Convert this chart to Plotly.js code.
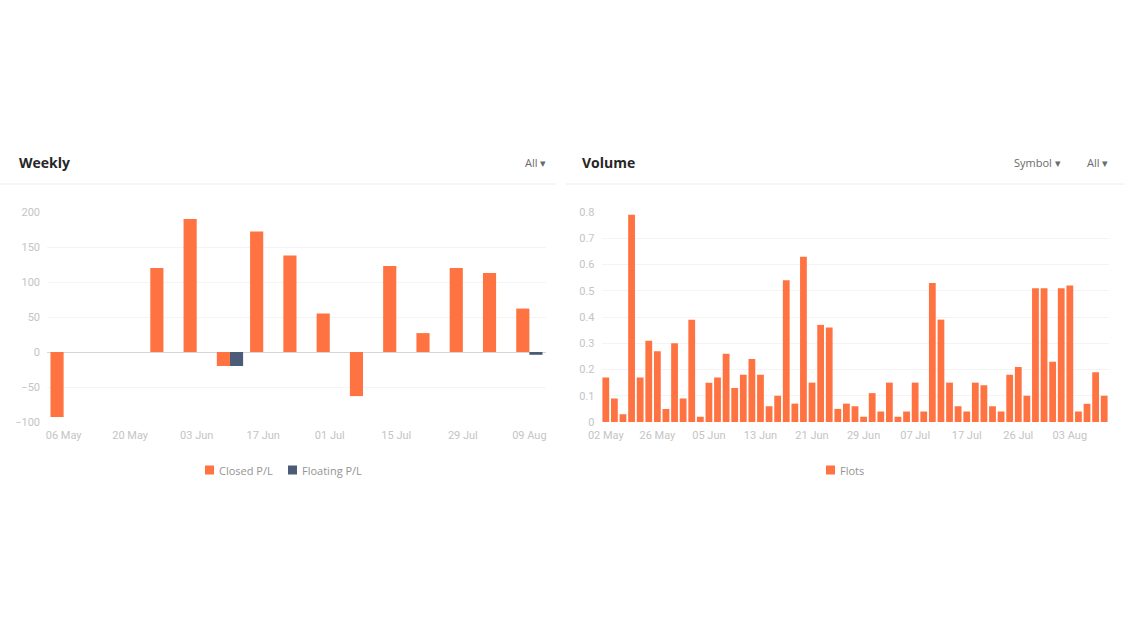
<!DOCTYPE html>
<html>
<head>
<meta charset="utf-8">
<script src="https://cdn.plot.ly/plotly-3.0.1.min.js"></script>
<style>
html,body{margin:0;padding:0;background:#fff;}
#chart{width:1125px;height:633px;}
</style>
</head>
<body>
<div id="chart"></div>
<script>
// Weekly P/L
const weekCats = ["06 May","13 May","20 May","27 May","03 Jun","10 Jun","17 Jun","24 Jun","01 Jul","08 Jul","15 Jul","22 Jul","29 Jul","05 Aug","09 Aug"];
const closedPL = [-93, 0, 0, 120, 190, -20, 172, 138, 55, -63, 123, 27, 120, 113, 62];
const floatingPL = [0, 0, 0, 0, 0, -20, 0, 0, 0, 0, 0, 0, 0, 0, -4];
const weekTicks = ["06 May","20 May","03 Jun","17 Jun","01 Jul","15 Jul","29 Jul","09 Aug"];

// Daily volume (lots)
const dayCats = ["02 May","06 May","09 May","14 May","17 May","22 May",
  "26 May","28 May","29 May","30 May","31 May","03 Jun",
  "05 Jun","06 Jun","07 Jun","10 Jun","11 Jun","12 Jun",
  "13 Jun","14 Jun","17 Jun","18 Jun","19 Jun","20 Jun",
  "21 Jun","24 Jun","25 Jun","26 Jun","27 Jun","28 Jun",
  "29 Jun","01 Jul","02 Jul","03 Jul","04 Jul","05 Jul",
  "07 Jul","09 Jul","10 Jul","11 Jul","12 Jul","15 Jul",
  "17 Jul","18 Jul","19 Jul","22 Jul","23 Jul","25 Jul",
  "26 Jul","29 Jul","30 Jul","31 Jul","01 Aug","02 Aug",
  "03 Aug","05 Aug","06 Aug","07 Aug","08 Aug"];
const flots = [0.17,0.09,0.03,0.79,0.17,0.31,
  0.27,0.05,0.30,0.09,0.39,0.02,
  0.15,0.17,0.26,0.13,0.18,0.24,
  0.18,0.06,0.10,0.54,0.07,0.63,
  0.15,0.37,0.36,0.05,0.07,0.06,
  0.02,0.11,0.04,0.15,0.02,0.04,
  0.15,0.04,0.53,0.39,0.15,0.06,
  0.04,0.15,0.14,0.06,0.04,0.18,
  0.21,0.10,0.51,0.51,0.23,0.51,
  0.52,0.04,0.07,0.19,0.10];
const dayTicks = ["02 May","26 May","05 Jun","13 Jun","21 Jun","29 Jun","07 Jul","17 Jul","26 Jul","03 Aug"];

const seriesNames = ["Closed P/L", "Floating P/L", "Flots"];

const ORANGE = "#ff7342";
const SLATE = "#4b5b78";
const W = 1125, H = 633;
const px = v => v / W;
const py = v => 1 - v / H;

const tickFont = {family: "Roboto, 'DejaVu Sans', sans-serif", size: 11, color: "#c4c4c4"};
const legendFont = {family: "'Open Sans', sans-serif", size: 11, color: "#949494"};
const headFont = {family: "'Open Sans', sans-serif", size: 14, color: "#262626"};
const menuFont = {family: "'Open Sans', sans-serif", size: 11, color: "#6b6b6b"};

const data = [
  {type: "bar", x: weekCats, y: closedPL, name: seriesNames[0], marker: {color: ORANGE}, xaxis: "x", yaxis: "y"},
  {type: "bar", x: weekCats, y: floatingPL, name: seriesNames[1], marker: {color: SLATE}, xaxis: "x", yaxis: "y"},
  {type: "bar", x: dayCats, y: flots, name: seriesNames[2], marker: {color: ORANGE}, xaxis: "x2", yaxis: "y2"}
];

const plotTop = 212, plotBot = 422;

// custom legend entries: [square left px, color, label]
const legendItems = [[205, ORANGE, seriesNames[0]], [288, SLATE, seriesNames[1]], [826, ORANGE, seriesNames[2]]];
const legendY = 470;

const shapes = [
  {type: "line", xref: "paper", yref: "paper", x0: 0, x1: px(556), y0: py(184), y1: py(184), line: {color: "#ececec", width: 1}},
  {type: "line", xref: "paper", yref: "paper", x0: px(566), x1: 1, y0: py(184), y1: py(184), line: {color: "#ececec", width: 1}}
];
const annotations = [
  {text: "<b>Weekly</b>", xref: "paper", yref: "paper", x: px(17), y: py(162), xanchor: "left", yanchor: "middle", showarrow: false, font: headFont},
  {text: "All ▾", xref: "paper", yref: "paper", x: px(548), y: py(162), xanchor: "right", yanchor: "middle", showarrow: false, font: menuFont},
  {text: "<b>Volume</b>", xref: "paper", yref: "paper", x: px(580), y: py(162), xanchor: "left", yanchor: "middle", showarrow: false, font: headFont},
  {text: "Symbol ▾", xref: "paper", yref: "paper", x: px(1063), y: py(162), xanchor: "right", yanchor: "middle", showarrow: false, font: menuFont},
  {text: "All ▾", xref: "paper", yref: "paper", x: px(1110), y: py(162), xanchor: "right", yanchor: "middle", showarrow: false, font: menuFont}
];
legendItems.forEach(([lx, col, label]) => {
  shapes.push({type: "rect", xref: "paper", yref: "paper", x0: px(lx), x1: px(lx + 9), y0: py(legendY - 4.5), y1: py(legendY + 4.5), fillcolor: col, line: {width: 0}});
  annotations.push({text: label, xref: "paper", yref: "paper", x: px(lx + 12), y: py(legendY), xanchor: "left", yanchor: "middle", showarrow: false, font: legendFont});
});

const layout = {
  width: W, height: H,
  margin: {l: 0, r: 0, t: 0, b: 0},
  paper_bgcolor: "#fff", plot_bgcolor: "#fff",
  barmode: "group",
  bargap: 0.21,
  bargroupgap: 0,
  showlegend: false,
  xaxis: {
    domain: [px(47), px(546)], anchor: "y",
    type: "category", tickmode: "array", tickvals: weekTicks, ticktext: weekTicks,
    showgrid: false, zeroline: false, showline: false, ticks: "",
    tickfont: tickFont, ticklabelstandoff: 5, fixedrange: true
  },
  yaxis: {
    domain: [py(plotBot), py(plotTop)], anchor: "x",
    range: [-100, 200], tickvals: [-100, -50, 0, 50, 100, 150, 200],
    showgrid: true, gridcolor: "#f4f4f4", gridwidth: 1,
    zeroline: true, zerolinecolor: "#d6d6d6", zerolinewidth: 1,
    showline: false, ticks: "", tickfont: tickFont, ticklabelstandoff: 6, fixedrange: true
  },
  xaxis2: {
    domain: [px(601.5), px(1108.5)], anchor: "y2",
    type: "category", tickmode: "array", tickvals: dayTicks, ticktext: dayTicks,
    showgrid: false, zeroline: false, showline: false, ticks: "",
    tickfont: tickFont, ticklabelstandoff: 5, fixedrange: true
  },
  yaxis2: {
    domain: [py(plotBot), py(plotTop)], anchor: "x2",
    range: [0, 0.8], tickvals: [0, 0.1, 0.2, 0.3, 0.4, 0.5, 0.6, 0.7, 0.8],
    showgrid: true, gridcolor: "#f4f4f4", gridwidth: 1,
    zeroline: false,
    showline: false, ticks: "", tickfont: tickFont, ticklabelstandoff: 6, fixedrange: true
  },
  shapes: shapes,
  annotations: annotations
};

Plotly.newPlot("chart", data, layout, {displayModeBar: false, staticPlot: true});
</script>
</body>
</html>
